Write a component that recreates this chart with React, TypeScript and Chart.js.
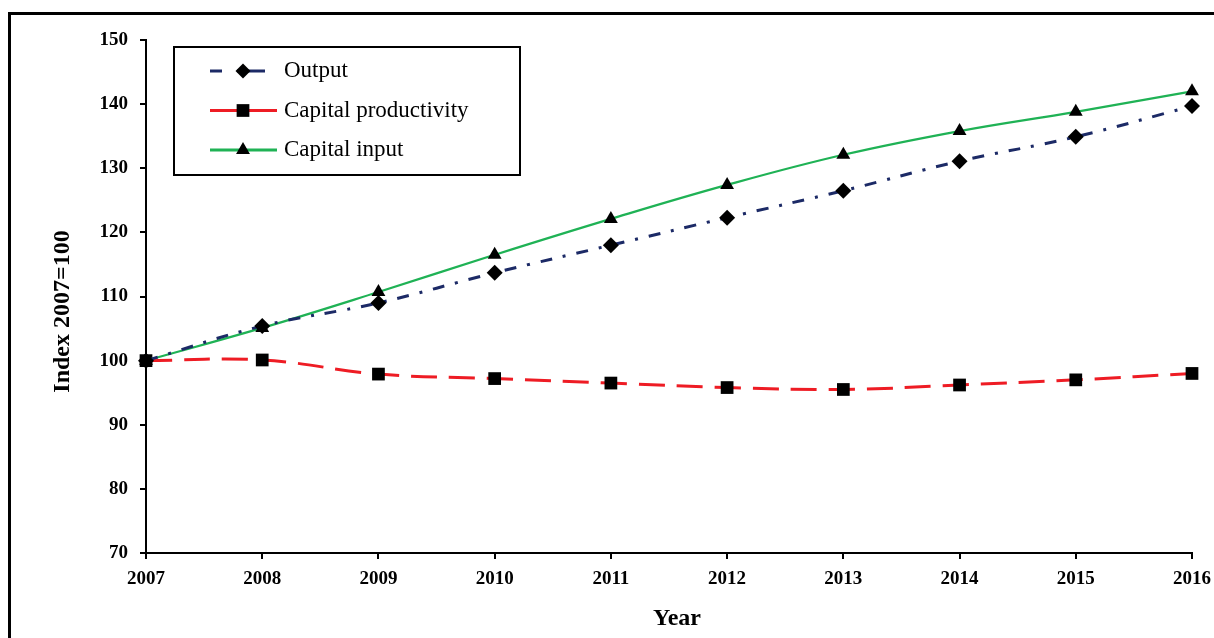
import React, { useEffect, useRef } from "react";
import { Chart, registerables } from "chart.js";

Chart.register(...registerables);

const years = ["2007", "2008", "2009", "2010", "2011", "2012", "2013", "2014", "2015", "2016"];
const outputValues = [100, 105.4, 109.0, 113.7, 118.0, 122.3, 126.5, 131.1, 134.9, 139.7];
const capitalProductivity = [100, 100.1, 97.9, 97.2, 96.5, 95.8, 95.5, 96.2, 97.0, 98.0];
const capitalInput = [100, 105.1, 110.7, 116.5, 122.1, 127.4, 132.1, 135.8, 138.8, 142.0];
const yTicks = [70, 80, 90, 100, 110, 120, 130, 140, 150];
const xTitle = "Year";
const yTitle = "Index 2007=100";

const NAVY = "#1c2a66";
const RED = "#ee1c24";
const GREEN = "#1fb255";
const SERIF = "'Liberation Serif', 'Times New Roman', serif";

function marker(ctx: CanvasRenderingContext2D, style: string, r: number, mx: number, y: number) {
  ctx.beginPath();
  if (style === "rect") {
    const s = r * Math.SQRT1_2;
    ctx.rect(mx - s, y - s, 2 * s, 2 * s);
  } else if (style === "rectRot") {
    ctx.moveTo(mx, y - r);
    ctx.lineTo(mx + r, y);
    ctx.lineTo(mx, y + r);
    ctx.lineTo(mx - r, y);
    ctx.closePath();
  } else {
    ctx.moveTo(mx, y - r);
    ctx.lineTo(mx + r * Math.sin((2 * Math.PI) / 3), y - r * Math.cos((2 * Math.PI) / 3));
    ctx.lineTo(mx + r * Math.sin((4 * Math.PI) / 3), y - r * Math.cos((4 * Math.PI) / 3));
    ctx.closePath();
  }
  ctx.fill();
}

const legendPlugin = {
  id: "insideLegend",
  afterDraw(chart: any) {
    const ctx = chart.ctx as CanvasRenderingContext2D;
    const ds = chart.data.datasets;
    const area = chart.chartArea;
    ctx.save();
    // axis titles
    ctx.fillStyle = "#000";
    ctx.font = `bold 24px ${SERIF}`;
    ctx.textAlign = "center";
    ctx.textBaseline = "middle";
    ctx.fillText(xTitle, 677, 619);
    ctx.save();
    ctx.translate(63, (area.top + area.bottom) / 2 + 15);
    ctx.rotate(-Math.PI / 2);
    ctx.fillText(yTitle, 0, 0);
    ctx.restore();

    // legend box
    ctx.strokeStyle = "#000";
    ctx.lineWidth = 2;
    ctx.setLineDash([]);
    ctx.strokeRect(174, 47, 346, 128);
    const rows = [71, 110.5, 150];
    const x0 = 210;
    const x1 = 277;
    const mx = 243;
    ds.forEach((d: any, i: number) => {
      const y = rows[i];
      ctx.beginPath();
      ctx.strokeStyle = d.borderColor;
      ctx.lineWidth = 3;
      ctx.setLineDash([]);
      if (i === 0) {
        ctx.moveTo(x0, y);
        ctx.lineTo(222, y);
        ctx.moveTo(237, y);
        ctx.lineTo(265, y);
      } else {
        ctx.moveTo(x0, y);
        ctx.lineTo(x1, y);
      }
      ctx.stroke();
      ctx.fillStyle = "#000";
      const r = i === 0 ? 7.5 : i === 1 ? 9 : 8;
      marker(ctx, d.pointStyle, r, mx, y);
      ctx.fillStyle = "#000";
      ctx.font = `23px ${SERIF}`;
      ctx.textBaseline = "middle";
      ctx.textAlign = "left";
      ctx.fillText(d.label, 284, y);
    });
    ctx.restore();
  },
};

export default function App() {
  const ref = useRef<HTMLCanvasElement | null>(null);

  useEffect(() => {
    if (!ref.current) return;
    const tickFont = { family: SERIF, size: 19, weight: "bold" as const };
    const chart = new Chart(ref.current, {
      type: "line",
      data: {
        labels: years,
        datasets: [
          {
            label: "Output",
            data: outputValues,
            borderColor: NAVY,
            borderWidth: 3,
            borderDash: [12, 11, 3, 11],
            pointStyle: "rectRot",
            pointRadius: 8,
            pointBackgroundColor: "#000",
            pointBorderColor: "#000",
            pointBorderWidth: 0,
            tension: 0.4,
            fill: false,
          },
          {
            label: "Capital productivity",
            data: capitalProductivity,
            borderColor: RED,
            borderWidth: 3,
            borderDash: [26, 12],
            pointStyle: "rect",
            pointRadius: 9,
            pointBackgroundColor: "#000",
            pointBorderColor: "#000",
            pointBorderWidth: 0,
            tension: 0.4,
            fill: false,
          },
          {
            label: "Capital input",
            data: capitalInput,
            borderColor: GREEN,
            borderWidth: 2.2,
            pointStyle: "triangle",
            pointRadius: 8,
            pointBackgroundColor: "#000",
            pointBorderColor: "#000",
            pointBorderWidth: 0,
            tension: 0.4,
            fill: false,
          },
        ],
      },
      options: {
        animation: false,
        responsive: false,
        maintainAspectRatio: false,
        layout: { padding: { left: 0, right: 22, top: 40, bottom: 0 } },
        plugins: {
          legend: { display: false },
          tooltip: { enabled: false },
        },
        scales: {
          x: {
            type: "category",
            offset: false,
            border: { display: true, color: "#000", width: 2 },
            grid: { display: true, drawOnChartArea: false, drawTicks: true, tickLength: 6, color: "#000", lineWidth: 2 },
            ticks: { color: "#000", font: tickFont, padding: 9, maxRotation: 0, autoSkip: false },
            title: { display: false },
            afterFit(scale: any) {
              scale.height = 85;
              scale.paddingRight = 0;
              scale.paddingLeft = 0;
            },
          },
          y: {
            min: 70,
            max: 150,
            afterBuildTicks(scale: any) {
              scale.ticks = yTicks.map((v) => ({ value: v }));
            },
            border: { display: true, color: "#000", width: 2 },
            grid: { display: true, drawOnChartArea: false, drawTicks: true, tickLength: 6, color: "#000", lineWidth: 2 },
            ticks: { color: "#000", font: tickFont, padding: 12 },
            title: { display: false },
            afterFit(scale: any) {
              scale.width = 146;
            },
          },
        },
      },
      plugins: [legendPlugin],
    });
    return () => chart.destroy();
  }, []);

  return (
    <div style={{ position: "fixed", left: 0, top: 0, width: 1214, height: 638, background: "#fff", overflow: "hidden" }}>
      <div
        style={{
          position: "absolute",
          left: 8,
          top: 12,
          right: -10,
          bottom: -10,
          borderTop: "3px solid #000",
          borderLeft: "3px solid #000",
        }}
      />
      <canvas ref={ref} width={1214} height={638} style={{ position: "absolute", left: 0, top: 0, width: 1214, height: 638 }} />
    </div>
  );
}
